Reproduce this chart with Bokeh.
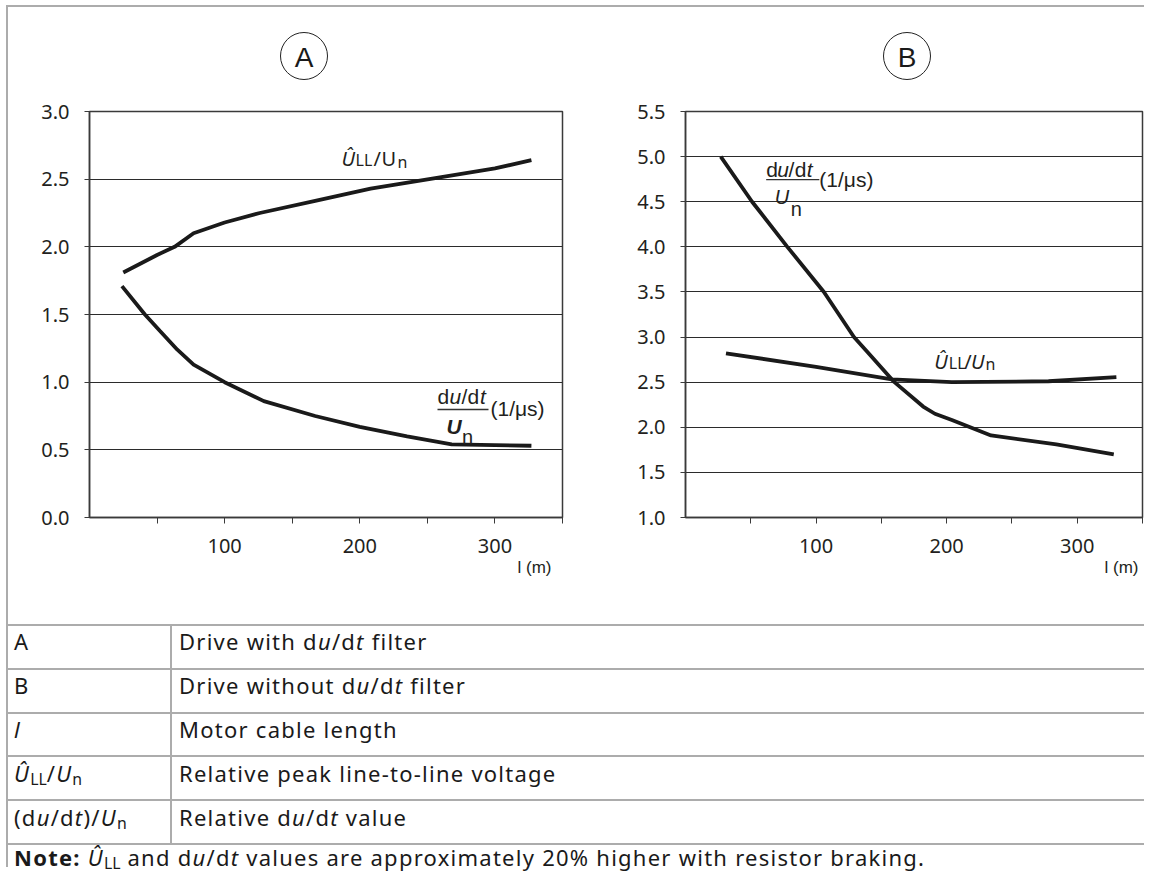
from bokeh.plotting import figure
from bokeh.models import Range1d, FixedTicker, PrintfTickFormatter, Label, Div, Title
from bokeh.layouts import row, column
from bokeh.embed import file_html
from bokeh.resources import INLINE

# ---------------- data ----------------
length_ticks = [50, 100, 150, 200, 250, 300, 350]
length_tick_labels = ["", "100", "", "200", "", "300", ""]
a_ticks = [0.0, 0.5, 1.0, 1.5, 2.0, 2.5, 3.0]
b_ticks = [1.0, 1.5, 2.0, 2.5, 3.0, 3.5, 4.0, 4.5, 5.0, 5.5]

# Chart A (drive with du/dt filter)
a_ull_x = [25, 50, 63, 77, 100, 126, 167, 208, 257, 300, 327]
a_ull_y = [1.81, 1.94, 2.00, 2.10, 2.18, 2.25, 2.34, 2.43, 2.51, 2.58, 2.64]
a_dudt_x = [24, 41, 52, 65, 77, 100, 129, 167, 200, 235, 268, 300, 327]
a_dudt_y = [1.71, 1.50, 1.38, 1.24, 1.13, 1.00, 0.86, 0.75, 0.67, 0.60, 0.54, 0.535, 0.53]

# Chart B (drive without du/dt filter)
b_dudt_x = [27, 51, 78, 106, 129, 139, 160, 182, 191, 204, 234, 284, 328]
b_dudt_y = [5.00, 4.50, 4.00, 3.50, 3.00, 2.84, 2.50, 2.23, 2.15, 2.08, 1.91, 1.81, 1.70]
b_ull_x = [31, 100, 158, 204, 278, 330]
b_ull_y = [2.82, 2.67, 2.53, 2.50, 2.51, 2.555]

panel_names = ["A", "B"]
axis_title = "l (m)"

# Legend table
table_keys = ["A", "B", "<i>l</i>",
              "<i>Û</i><sub>LL</sub>/<i>U</i><sub>n</sub>",
              "(d<i>u</i>/d<i>t</i>)/<i>U</i><sub>n</sub>"]
table_values = ["Drive with d<i>u</i>/d<i>t</i> filter",
                "Drive without d<i>u</i>/d<i>t</i> filter",
                "Motor cable length",
                "Relative peak line-to-line voltage",
                "Relative d<i>u</i>/d<i>t</i> value"]
note_text = ("<b>Note:</b> <i>Û</i><sub>LL</sub> and d<i>u</i>/d<i>t</i> values are "
             "approximately 20% higher with resistor braking.")

INK = "#1a1a1a"
AXIS = "#3a3a3a"
TXT = "#231f20"
RULE = "#acacac"

FIG_H = 532
LABEL_SHIFT = 6  # compensate the renderer's baseline placement


def chart(width, left, right, y0, y1, yticks, title_offset):
    p = figure(width=width, height=FIG_H, x_range=Range1d(0, 350), y_range=Range1d(y0, y1),
               output_backend="svg", toolbar_location=None, title=None,
               min_border_left=left, min_border_right=right,
               min_border_top=19, min_border_bottom=107,
               background_fill_color="white", border_fill_color="white")
    p.outline_line_color = AXIS
    p.outline_line_width = 1.5
    p.xgrid.visible = False
    p.ygrid.ticker = FixedTicker(ticks=yticks)
    p.ygrid.grid_line_color = "#2b2b2b"
    p.ygrid.grid_line_width = 1
    xa = p.xaxis[0]
    xa.ticker = FixedTicker(ticks=length_ticks)
    xa.major_label_overrides = {t: l for t, l in zip(length_ticks, length_tick_labels)}
    xa.major_tick_out = 6
    xa.major_tick_in = 0
    xa.minor_tick_out = 0
    xa.minor_tick_in = 0
    xa.major_label_standoff = 15
    ya = p.yaxis[0]
    ya.ticker = FixedTicker(ticks=yticks)
    ya.formatter = PrintfTickFormatter(format="%.1f")
    ya.major_tick_out = 5
    ya.major_tick_in = 0
    ya.minor_tick_out = 0
    ya.minor_tick_in = 0
    ya.major_label_standoff = 15
    for ax in (xa, ya):
        ax.axis_line_color = AXIS
        ax.axis_line_width = 1.5
        ax.major_tick_line_color = AXIS
        ax.major_tick_line_width = 1
        ax.major_label_text_font = "Noto Sans"
        ax.major_label_text_font_size = "20px"
        ax.major_label_text_color = TXT
    p.add_layout(Title(text=axis_title, align="right", offset=title_offset,
                       text_font="Liberation Sans", text_font_size="17px",
                       text_font_style="normal", text_color=TXT, standoff=0), "below")
    return p


def put(p, fx, fy, rx, ry, text, size, font="Liberation Sans", style="normal"):
    p.add_layout(Label(x=fx(rx), y=fy(ry - LABEL_SHIFT), text=text, text_font=font,
                       text_font_size=f"{size}px", text_font_style=style,
                       text_align="left", text_baseline="alphabetic", text_color=TXT))


# ---------------- Chart A ----------------
pA = chart(572, 81, 18, 0, 3.0, a_ticks, 11)
fxA = lambda rx: (rx - 89) * 350 / 473
fyA = lambda ry: (515 - ry) * 3.0 / 406
pA.line(a_ull_x, a_ull_y, line_width=3.8, line_color=INK)
pA.line(a_dudt_x, a_dudt_y, line_width=3.8, line_color=INK)

put(pA, fxA, fyA, 341, 162, "Û", 20, font="Noto Sans", style="italic")
put(pA, fxA, fyA, 355, 163, "LL", 16, font="Noto Sans")
put(pA, fxA, fyA, 373, 162, "/", 20, font="Noto Sans")
put(pA, fxA, fyA, 381, 162, "U", 20, font="Noto Sans")
put(pA, fxA, fyA, 397, 165, "n", 16, font="Noto Sans")
put(pA, fxA, fyA, 437, 400, "d", 21)
put(pA, fxA, fyA, 449, 400, "u", 21, style="italic")
put(pA, fxA, fyA, 461, 400, "/", 21)
put(pA, fxA, fyA, 467, 400, "d", 21)
put(pA, fxA, fyA, 479.5, 400, "t", 21, style="italic")
pA.segment(x0=[fxA(437)], y0=[fyA(407)], x1=[fxA(488)], y1=[fyA(407)],
           line_width=1.3, line_color="#333")
put(pA, fxA, fyA, 490, 412, "(1/μs)", 21)
put(pA, fxA, fyA, 446, 430, "U", 21, style="bold italic")
put(pA, fxA, fyA, 461.5, 440, "n", 20)

# ---------------- Chart B ----------------
pB = chart(564, 105, 2, 1.0, 5.5, b_ticks, 4)
fxB = lambda rx: (rx - 685.5) * 350 / 473
fyB = lambda ry: 1.0 + (519 - ry) / 90.0
pB.line(b_dudt_x, b_dudt_y, line_width=3.8, line_color=INK)
pB.line(b_ull_x, b_ull_y, line_width=3.8, line_color=INK)

put(pB, fxB, fyB, 943, 369, "Û", 20, font="Noto Sans", style="italic")
put(pB, fxB, fyB, 958, 371, "LL", 16, font="Noto Sans")
put(pB, fxB, fyB, 974, 369, "/", 20, font="Noto Sans")
put(pB, fxB, fyB, 981, 369, "U", 20, font="Noto Sans", style="italic")
put(pB, fxB, fyB, 996, 372, "n", 16, font="Noto Sans")
put(pB, fxB, fyB, 769, 178, "d", 21)
put(pB, fxB, fyB, 780.5, 178, "u", 21, style="italic")
put(pB, fxB, fyB, 792, 178, "/", 21)
put(pB, fxB, fyB, 798.5, 178, "d", 21)
put(pB, fxB, fyB, 811, 178, "t", 21, style="italic")
pB.segment(x0=[fxB(769)], y0=[fyB(182)], x1=[fxB(824)], y1=[fyB(182)],
           line_width=1.3, line_color="#333")
put(pB, fxB, fyB, 824, 188, "(1/μs)", 21)
put(pB, fxB, fyB, 778, 205, "U", 20, style="italic")
put(pB, fxB, fyB, 794.5, 217, "n", 20)

# ---------------- top band: frame rules and circled panel letters ----------------
circle_css = ("position:absolute;top:32px;width:48px;height:48px;border:1px solid #222;"
              "border-radius:50%;text-align:center;line-height:49px;"
              "font-family:'Liberation Sans';font-size:28px;color:#1a1a1a;")
top_html = (
    '<div style="position:relative;width:1144px;height:92px;">'
    f'<div style="position:absolute;left:6px;top:5px;width:1138px;height:2px;background:{RULE}"></div>'
    f'<div style="position:absolute;left:6px;top:5px;width:2px;height:87px;background:{RULE}"></div>'
    f'<div style="{circle_css}left:280px">{panel_names[0]}</div>'
    f'<div style="{circle_css}left:883px">{panel_names[1]}</div>'
    '</div>'
)
top_band = Div(text=top_html, width=1144, height=92, margin=0)

strip = Div(text=f'<div style="position:relative;width:8px;height:{FIG_H}px;">'
                 f'<div style="position:absolute;left:6px;top:0;width:2px;height:{FIG_H}px;background:{RULE}"></div></div>',
            width=8, height=FIG_H, margin=0)

# ---------------- legend table ----------------
TAB_H = 243
rule_tops = [0, 44, 88, 131, 175, 219]
parts = ["<style>sub{font-size:0.72em;vertical-align:-0.22em;line-height:0;letter-spacing:0}</style>",
         f'<div style="position:relative;width:1144px;height:{TAB_H}px;font-family:\'Noto Sans\';'
         'font-size:22px;color:#1a1a1a;letter-spacing:1.25px;">',
         f'<div style="position:absolute;left:6px;top:0;width:2px;height:{TAB_H}px;background:{RULE}"></div>']
for t in rule_tops:
    parts.append(f'<div style="position:absolute;left:6px;top:{t}px;width:1138px;height:2px;background:{RULE}"></div>')
parts.append(f'<div style="position:absolute;left:170px;top:0;width:2px;height:221px;background:{RULE}"></div>')
for i, (k, v) in enumerate(zip(table_keys, table_values)):
    base = 650 + i * 44 - 624
    top = base - 19
    parts.append(f'<div style="position:absolute;left:14px;top:{top}px;line-height:20px;white-space:nowrap">{k}</div>')
    parts.append(f'<div style="position:absolute;left:179px;top:{top}px;line-height:20px;white-space:nowrap">{v}</div>')
parts.append(f'<div style="position:absolute;left:14px;top:{866 - 624 - 19}px;line-height:20px;white-space:nowrap">{note_text}</div>')
parts.append('</div>')
table = Div(text="".join(parts), width=1144, height=TAB_H, margin=0)

layout = column(top_band, row(strip, pA, pB, spacing=0), table, spacing=0)

open("out.html", "w").write(file_html(layout, INLINE))
